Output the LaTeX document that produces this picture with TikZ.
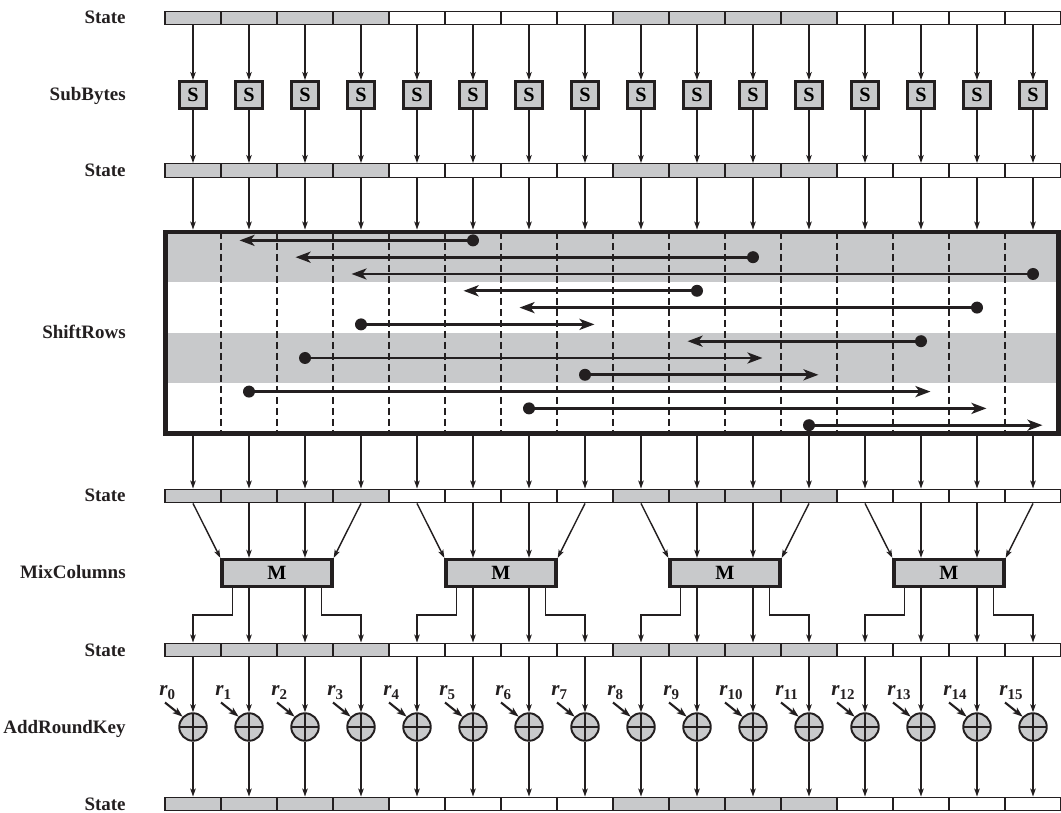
\documentclass[tikz,border=0pt]{standalone}
\usepackage{fontspec}
\setmainfont{Liberation Serif}
\usepackage{tikz}
\usetikzlibrary{arrows.meta,backgrounds}

\definecolor{ink}{RGB}{35,31,32}
\definecolor{cellgray}{RGB}{200,201,203}

\newcommand{\rkey}[1]{\textit{r}\raisebox{-2.8pt}{\fontsize{8.5}{10}\selectfont #1}}

\begin{document}
\begin{tikzpicture}[
  x=0.02cm, y=-0.02cm,
  cell/.style      = {draw=ink, line width=0.8pt, minimum width=1.12cm,
                      minimum height=0.27cm, inner sep=0pt},
  cellfill0/.style = {fill=cellgray},
  cellfill1/.style = {fill=white},
  rowlab/.style    = {anchor=base east, inner sep=0pt, text=ink,
                      font=\fontsize{10.8}{12}\selectfont\bfseries},
  sbox/.style      = {draw=ink, line width=1.9pt, fill=cellgray,
                      minimum size=0.53cm, inner sep=0pt,
                      font=\fontsize{11.5}{12}\selectfont\bfseries},
  shiftbox/.style  = {draw=ink, line width=2.8pt, minimum width=17.86cm,
                      minimum height=4.03cm, inner sep=0pt},
  mbox/.style      = {draw=ink, line width=1.9pt, fill=cellgray,
                      minimum width=2.2cm, minimum height=0.54cm, inner sep=0pt,
                      font=\fontsize{11.5}{12}\selectfont\bfseries},
  xorc/.style      = {circle, draw=ink, line width=1.1pt, fill=cellgray,
                      minimum size=0.55cm, inner sep=0pt,
                      path picture={\draw[ink, line width=1.1pt]
                        (path picture bounding box.north) -- (path picture bounding box.south)
                        (path picture bounding box.west) -- (path picture bounding box.east);}},
  keylab/.style    = {anchor=base west, inner sep=0pt, text=ink,
                      font=\fontsize{12}{14}\selectfont\bfseries},
  srcdot/.style    = {circle, fill=ink, minimum size=0.24cm, inner sep=0pt},
  colsep/.style    = {draw=ink, line width=0.7pt, dash pattern=on 0.14cm off 0.08cm},
  arr/.style       = {-{Stealth[length=0.16cm, width=0.11cm, inset=0.04cm]},
                      draw=ink, line width=0.8pt},
  keyarr/.style    = {-{Stealth[length=0.2cm, width=0.14cm, inset=0.05cm]},
                      draw=ink, line width=1.2pt},
  shiftarr/.style  = {-{Stealth[length=0.3cm, width=0.22cm, inset=0.08cm]},
                      draw=ink, line width=1.7pt},
]
\useasboundingbox (0,0) rectangle (1061,813);

%% ── State rows ───────────────────────────────────────────────────────────────
\foreach \r/\y in {1/18, 2/170.5, 3/496, 4/650, 5/804} {
  \node[rowlab] (lab\r) at (126,{\y+6}) {State};
  \foreach \i in {0,...,15} {
    \pgfmathtruncatemacro{\grp}{mod(floor(\i/4),2)}
    \node[cell, cellfill\grp] (st\r-\i) at ({193+56*\i},\y) {};
  }
}

%% ── SubBytes ─────────────────────────────────────────────────────────────────
\node[rowlab] (labsub) at (126,101) {SubBytes};
\foreach \i in {0,...,15} {
  \node[sbox] (sb\i) at ({193+56*\i},95) {S};
  \draw[arr] (st1-\i.south) -- (sb\i.north);
  \draw[arr] (sb\i.south) -- (st2-\i.north);
}

%% ── ShiftRows ────────────────────────────────────────────────────────────────
\node[rowlab] (labshift) at (126,339) {ShiftRows};
\node[shiftbox] (shift) at (612,332.75) {};
\begin{scope}[on background layer]
  \fill[cellgray] (165,232) rectangle (1058,282.4);
  \fill[cellgray] (165,332.8) rectangle (1058,383.1);
  \foreach \i in {1,...,15}
    \draw[colsep] ({165+56*\i},232) -- ({165+56*\i},433.5);
\end{scope}
\foreach \i in {0,...,15} {
  \draw[arr] (st2-\i.south) -- (st2-\i.south |- shift.north);
  \draw[arr] (st3-\i.north |- shift.south) -- (st3-\i.north);
}
\foreach \k/\src/\dst in {0/5/1, 1/10/2, 2/15/3, 3/9/5, 4/14/6, 5/3/7,
                          6/13/9, 7/2/10, 8/7/11, 9/1/13, 10/6/14, 11/11/15} {
  \pgfmathsetmacro{\yy}{240.4+16.8*\k}
  \pgfmathsetmacro{\tx}{193+56*\dst+9.5*sign(\dst-\src)}
  \node[srcdot] (dot\k) at ({193+56*\src},\yy) {};
  \coordinate (tip\k) at (\tx,\yy);
  \draw[shiftarr] (dot\k.center) -- (tip\k);
}

%% ── MixColumns ───────────────────────────────────────────────────────────────
\node[rowlab] (labmix) at (126,579) {MixColumns};
\foreach \g in {0,...,3} {
  \pgfmathtruncatemacro{\ca}{4*\g}
  \pgfmathtruncatemacro{\cb}{4*\g+1}
  \pgfmathtruncatemacro{\cc}{4*\g+2}
  \pgfmathtruncatemacro{\cd}{4*\g+3}
  \node[mbox] (mix\g) at ({277+224*\g},573) {M};
  \draw[arr] (st3-\ca.south) -- (mix\g.north west);
  \draw[arr] (st3-\cb.south) -- (st3-\cb.south |- mix\g.north);
  \draw[arr] (st3-\cc.south) -- (st3-\cc.south |- mix\g.north);
  \draw[arr] (st3-\cd.south) -- (mix\g.north east);
  \draw[arr] ([xshift=0.24cm]mix\g.south west) -- ++(0,27) -| (st4-\ca.north);
  \draw[arr] (st4-\cb.north |- mix\g.south) -- (st4-\cb.north);
  \draw[arr] (st4-\cc.north |- mix\g.south) -- (st4-\cc.north);
  \draw[arr] ([xshift=-0.24cm]mix\g.south east) -- ++(0,27) -| (st4-\cd.north);
}

%% ── AddRoundKey ──────────────────────────────────────────────────────────────
\node[rowlab] (labkey) at (126,733) {AddRoundKey};
\foreach \i in {0,...,15} {
  \node[xorc] (xor\i) at ({193+56*\i},727) {};
  \node[keylab] (key\i) at ({159+56*\i},695) {\rkey{\i}};
  \draw[arr] (st4-\i.south) -- (xor\i.north);
  \draw[arr] (xor\i.south) -- (st5-\i.north);
  \draw[keyarr] ([shift={(0.12cm,-0.15cm)}]key\i.base west) -- (xor\i.north west);
}

\end{tikzpicture}
\end{document}
